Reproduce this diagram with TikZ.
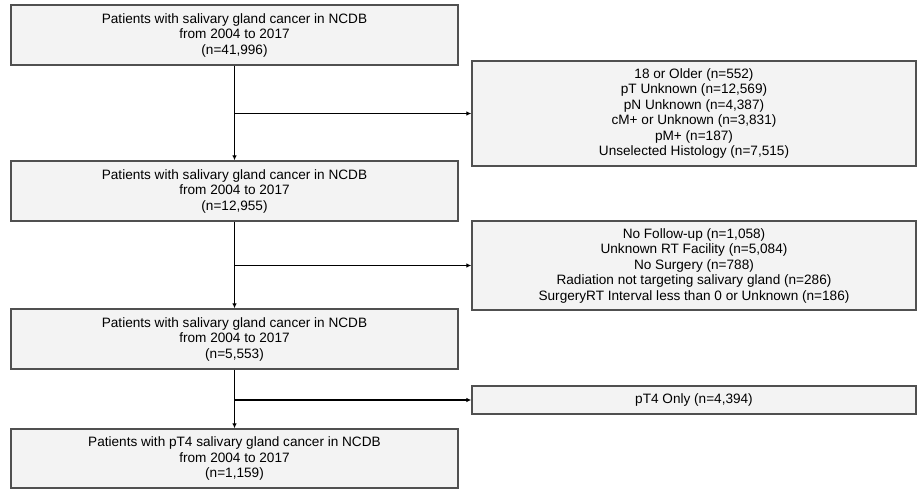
\documentclass[tikz,border=0pt]{standalone}
\usepackage{fontspec}
\setmainfont{Liberation Sans}
\usetikzlibrary{arrows.meta}
\definecolor{boxfill}{HTML}{F3F3F3}
\definecolor{boxline}{HTML}{505050}
\begin{document}
\begin{tikzpicture}[x=1pt,y=-1pt,
  box/.style={draw=boxline,fill=boxfill,line width=1.3pt,rectangle,inner sep=0pt,
    align=center,font=\fontsize{13.6}{15.5}\selectfont,text=black},
  mainbox/.style={box,minimum width=447pt},
  exbox/.style={box,minimum width=444pt},
  flow/.style={line width=1.6pt,-{Latex[length=5pt,width=4.5pt]}}]
\useasboundingbox (0,0) rectangle (917,489);
\node[mainbox,minimum height=60pt] (b1) at (234.5,35) {Patients with salivary gland cancer in NCDB\\from 2004 to 2017\\(n=41,996)};
\node[exbox,minimum height=105pt] (e1) at (694,113.5) {18 or Older (n=552)\\pT Unknown (n=12,569)\\pN Unknown (n=4,387)\\cM+ or Unknown (n=3,831)\\pM+ (n=187)\\Unselected Histology (n=7,515)};
\node[mainbox,minimum height=60pt] (b2) at (234.5,191) {Patients with salivary gland cancer in NCDB\\from 2004 to 2017\\(n=12,955)};
\node[exbox,minimum height=89pt] (e2) at (694,265.5) {No Follow-up (n=1,058)\\Unknown RT Facility (n=5,084)\\No Surgery (n=788)\\Radiation not targeting salivary gland (n=286)\\SurgeryRT Interval less than 0 or Unknown (n=186)};
\node[mainbox,minimum height=60pt] (b3) at (234.5,339) {Patients with salivary gland cancer in NCDB\\from 2004 to 2017\\(n=5,553)};
\node[exbox,minimum height=28pt] (e3) at (694,400) {pT4 Only (n=4,394)};
\node[mainbox,minimum height=59pt] (b4) at (234.5,458.5) {Patients with pT4 salivary gland cancer in NCDB\\from 2004 to 2017\\(n=1,159)};
\draw[flow] (b1.south) -- (b2.north);
\draw[flow] (b1.south |- e1.west) -- (e1.west);
\draw[flow] (b2.south) -- (b3.north);
\draw[flow] (b2.south |- e2.west) -- (e2.west);
\draw[flow] (b3.south) -- (b4.north);
\draw[flow] (b3.south |- e3.west) -- (e3.west);
\end{tikzpicture}
\end{document}
